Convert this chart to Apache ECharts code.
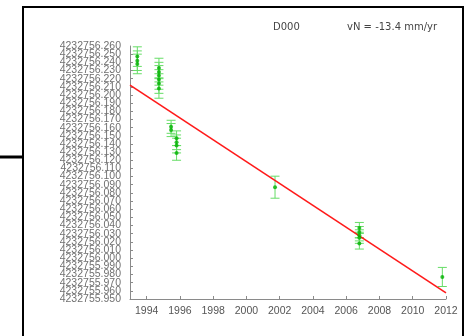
<!DOCTYPE html>
<html>
<head>
<meta charset="utf-8">
<script src="https://cdn.jsdelivr.net/npm/echarts@6/dist/echarts.min.js"></script>
<style>
  html, body { margin: 0; padding: 0; background: #fff; }
  #chart { width: 472px; height: 336px; }
</style>
</head>
<body>
<div id="chart"></div>
<script>
// Station D000, north component time series
const stationName = 'D000';
const velocityNorth = -13.4;          // mm/yr, slope of the fitted trend
const trendMidEpoch = 2002.5;         // epoch of the trend reference value
const trendMidValue = 4232756.0848;   // northing (m) of the trend at trendMidEpoch
const trendYears = [1993, 2012];

const obsEpochs = [
  1993.44, 1993.44, 1993.44,
  1994.74, 1994.74, 1994.74, 1994.74, 1994.74, 1994.74,
  1995.47, 1995.47,
  1995.80, 1995.80, 1995.80, 1995.80,
  2001.72,
  2006.79, 2006.79, 2006.79, 2006.79, 2006.79,
  2011.78
];
const obsNorthing = [
  4232756.247, 4232756.242, 4232756.238,
  4232756.233, 4232756.228, 4232756.224, 4232756.219, 4232756.214, 4232756.208,
  4232756.161, 4232756.157,
  4232756.147, 4232756.142, 4232756.138, 4232756.129,
  4232756.087,
  4232756.037, 4232756.032, 4232756.028, 4232756.025, 4232756.018,
  4232755.977
];
const obsSigma = [
  0.012, 0.012, 0.012,
  0.012, 0.012, 0.012, 0.012, 0.012, 0.012,
  0.008, 0.008,
  0.009, 0.009, 0.009, 0.009,
  0.0135,
  0.0068, 0.0068, 0.0068, 0.0068, 0.0068,
  0.0117
];
const yTickStart = 4232755.950;
const yTickEnd = 4232756.260;
const yTickStep = 0.010;
const xMin = 1993;
const xMax = 2012;
const xTickYears = [1994, 1996, 1998, 2000, 2002, 2004, 2006, 2008, 2010, 2012];

// plot in millimetres relative to a base northing to keep tick arithmetic exact
const base = 4232756.000;
const toMM = v => Math.round((v - base) * 1e6) / 1e3;

const yMin = Math.round(toMM(yTickStart));
const yMax = Math.round(toMM(yTickEnd));
const yStep = Math.round(yTickStep * 1000);
const yLabelValues = [];
for (let v = yMin; v <= yMax; v += yStep) yLabelValues.push(v);

const pts = obsEpochs.map((t, i) => [t, toMM(obsNorthing[i]), obsSigma[i] * 1000]);
const trend = trendYears.map(t => [t, (trendMidValue - base) * 1000 + velocityNorth * (t - trendMidEpoch)]);

const axisGrey = '#8a8a8a';
const chart = echarts.init(document.getElementById('chart'), null, { renderer: 'canvas' });

const yLabelStyle = {
  color: '#707070', fontFamily: 'Liberation Sans', fontSize: 10.5, margin: 9,
  hideOverlap: false,
  formatter: v => (base + v / 1000).toFixed(3)
};

chart.setOption({
  animation: false,
  backgroundColor: '#ffffff',
  grid: { left: 130, right: 26, top: 46, bottom: 37, outerBoundsMode: 'none' },
  xAxis: {
    type: 'value',
    min: xMin,
    max: xMax,
    interval: 1,
    axisLine: { onZero: false, lineStyle: { color: axisGrey, width: 1 } },
    axisTick: { inside: true, length: 3, customValues: xTickYears, lineStyle: { color: axisGrey } },
    axisLabel: {
      color: '#555', fontFamily: 'Liberation Sans', fontSize: 10.5, margin: 7,
      customValues: xTickYears,
      formatter: v => String(v)
    },
    splitLine: { show: false }
  },
  yAxis: [
    {
      type: 'value',
      min: yMin,
      max: yMax,
      interval: yStep,
      axisLine: { show: true, onZero: false, lineStyle: { color: axisGrey, width: 1 } },
      axisTick: { show: true, inside: true, length: 3, lineStyle: { color: axisGrey } },
      axisLabel: Object.assign({}, yLabelStyle, { showMinLabel: false, showMaxLabel: false }),
      splitLine: { show: false }
    },
    {
      // second pass over the same scale so the end labels stay visible
      type: 'value',
      position: 'left',
      min: yMin,
      max: yMax,
      interval: yStep,
      axisLine: { show: false, onZero: false },
      axisTick: { show: false },
      axisLabel: Object.assign({}, yLabelStyle, {
        showMinLabel: true, showMaxLabel: true,
        customValues: [yLabelValues[0], yLabelValues[yLabelValues.length - 1]]
      }),
      splitLine: { show: false }
    }
  ],
  series: [
    {
      type: 'custom',
      z: 2,
      renderItem: (params, api) => {
        const x = api.value(0), y = api.value(1), s = api.value(2);
        const top = api.coord([x, y + s]);
        const bot = api.coord([x, y - s]);
        const hw = 4.5;
        const style = { stroke: '#66dd66', lineWidth: 1 };
        return {
          type: 'group',
          children: [
            { type: 'line', shape: { x1: top[0], y1: top[1], x2: bot[0], y2: bot[1] }, style },
            { type: 'line', shape: { x1: top[0] - hw, y1: top[1], x2: top[0] + hw, y2: top[1] }, style },
            { type: 'line', shape: { x1: bot[0] - hw, y1: bot[1], x2: bot[0] + hw, y2: bot[1] }, style }
          ]
        };
      },
      encode: { x: 0, y: 1 },
      data: pts
    },
    {
      type: 'line',
      z: 3,
      data: trend,
      showSymbol: false,
      lineStyle: { color: '#ff1a1a', width: 1.6 }
    },
    {
      type: 'scatter',
      z: 4,
      data: pts.map(p => [p[0], p[1]]),
      symbol: 'circle',
      symbolSize: 4,
      itemStyle: { color: '#00b000' }
    }
  ],
  graphic: [
    { type: 'rect', shape: { x: 23, y: 7, width: 440, height: 345 }, style: { fill: 'none', stroke: '#000', lineWidth: 2 } },
    { type: 'line', shape: { x1: 0, y1: 157, x2: 23, y2: 157 }, style: { stroke: '#000', lineWidth: 3 } },
    { type: 'text', left: 273, top: 22, style: { text: stationName, fill: '#444', font: '10px "DejaVu Sans"' } },
    { type: 'text', left: 347, top: 22, style: { text: 'vN = ' + velocityNorth.toFixed(1) + ' mm/yr', fill: '#444', font: '10px "DejaVu Sans"' } }
  ]
});
</script>
</body>
</html>
